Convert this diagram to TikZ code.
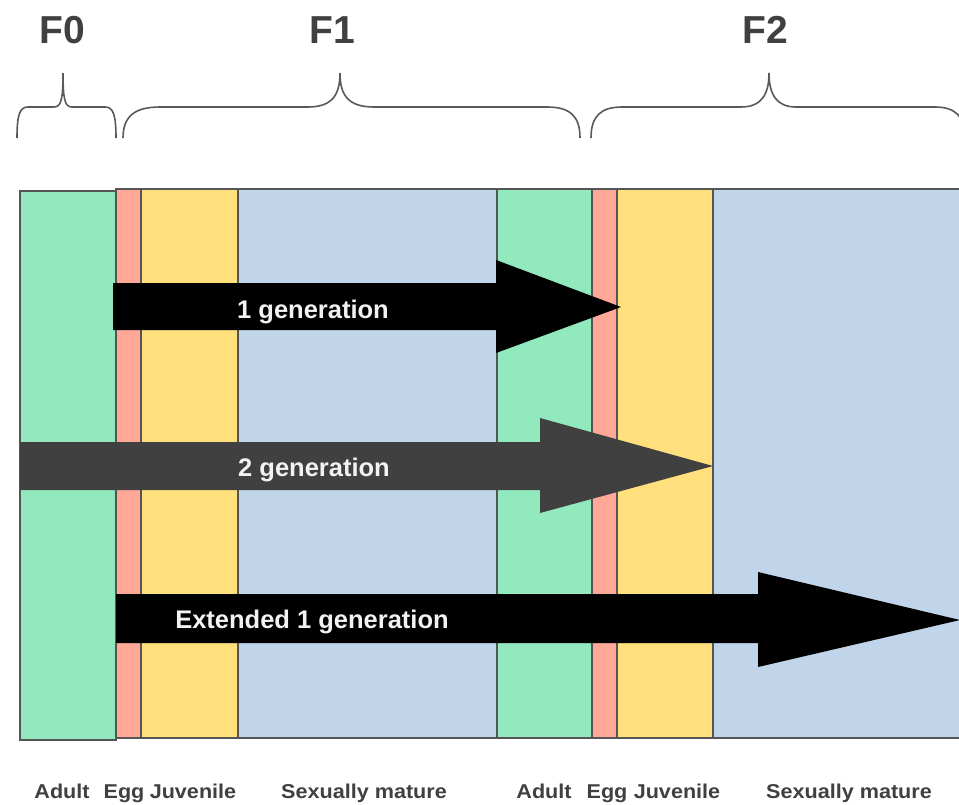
\documentclass[tikz,border=0pt]{standalone}
\usepackage{fontspec}
\setmainfont{Liberation Sans}
\definecolor{adultc}{HTML}{93E9BE}
\definecolor{eggc}{HTML}{FFA898}
\definecolor{juvc}{HTML}{FFE07C}
\definecolor{matc}{HTML}{C0D5EA}
\definecolor{bandline}{HTML}{555555}
\definecolor{bracec}{HTML}{5A5A5A}
\definecolor{labelc}{HTML}{404040}
\definecolor{arrowdark}{HTML}{404040}
\definecolor{arrowtxt}{HTML}{F2F2F2}
\begin{document}
\begin{tikzpicture}[x=1pt,y=-1pt,
  band/.style={draw=bandline, line width=2pt},
  bracestyle/.style={draw=bracec, line width=1.6pt},
  arrtext/.style={text=arrowtxt, font=\fontsize{25.5}{30}\selectfont\bfseries, inner sep=0pt, anchor=base},
  gen/.style={text=labelc, font=\fontsize{39}{46}\selectfont\bfseries, inner sep=0pt, anchor=base},
  stage/.style={text=labelc, font=\fontsize{20}{24}\selectfont\bfseries, inner sep=0pt, anchor=base, xscale=1.08, transform shape}]
\useasboundingbox (0,0) rectangle (959,804);
\clip (0,0) rectangle (959,804);
\fill[white] (0,0) rectangle (959,804);

% bands
\draw[band, fill=adultc] (20,191) rectangle (116,740);
\draw[band, fill=eggc] (116,189) rectangle (141,738);
\draw[band, fill=juvc] (141,189) rectangle (238,738);
\draw[band, fill=matc] (238,189) rectangle (497,738);
\draw[band, fill=adultc] (497,189) rectangle (592,738);
\draw[band, fill=eggc] (592,189) rectangle (617,738);
\draw[band, fill=juvc] (617,189) rectangle (713,738);
\draw[band, fill=matc] (713,189) rectangle (975,738);

% arrows
\fill[black] (113,283) -- (496,283) -- (496,260) -- (621,307) -- (496,353) -- (496,330) -- (113,330) -- cycle;
\node[arrtext] (a1) at (313,318) {1 generation};
\fill[arrowdark] (20,442) -- (540,442) -- (540,418) -- (713,466) -- (540,513) -- (540,490) -- (20,490) -- cycle;
\node[arrtext] (a2) at (314,476) {2 generation};
\fill[black] (116,594) -- (758,594) -- (758,572) -- (960,620) -- (758,667) -- (758,643) -- (116,643) -- cycle;
\node[arrtext] (a3) at (312,628) {Extended 1 generation};

% braces
\draw[bracestyle] (17,138) .. controls (17,114) and (20,107) .. (28,107) -- (54,107)
  .. controls (61,107) and (63,100) .. (63,73) .. controls (63,100) and (65,107) .. (72,107)
  -- (105,107) .. controls (113,107) and (116,114) .. (116,138);
\draw[bracestyle] (123,138) .. controls (123,116) and (135,107) .. (160,107) -- (308,107)
  .. controls (332,107) and (340,95) .. (340,73) .. controls (340,95) and (348,107) .. (374,107)
  -- (547,107) .. controls (570,107) and (580,116) .. (580,138);
\draw[bracestyle] (591,138) .. controls (591,116) and (601,107) .. (622,107) -- (741,107)
  .. controls (761,107) and (769,95) .. (769,73) .. controls (769,95) and (777,107) .. (796,107)
  -- (935,107) .. controls (955,107) and (965,116) .. (965,138);

% generation labels
\node[gen] (f0) at (62,43) {F0};
\node[gen] (f1) at (332,43) {F1};
\node[gen] (f2) at (765,43) {F2};

% stage labels
\node[stage] (s1) at (62,798) {Adult};
\node[stage] (s2) at (124,798) {Egg};
\node[stage] (s3) at (193,798) {Juvenile};
\node[stage] (s4) at (364,798) {Sexually mature};
\node[stage] (s5) at (544,798) {Adult};
\node[stage] (s6) at (607,798) {Egg};
\node[stage] (s7) at (677,798) {Juvenile};
\node[stage] (s8) at (849,798) {Sexually mature};
\end{tikzpicture}
\end{document}
